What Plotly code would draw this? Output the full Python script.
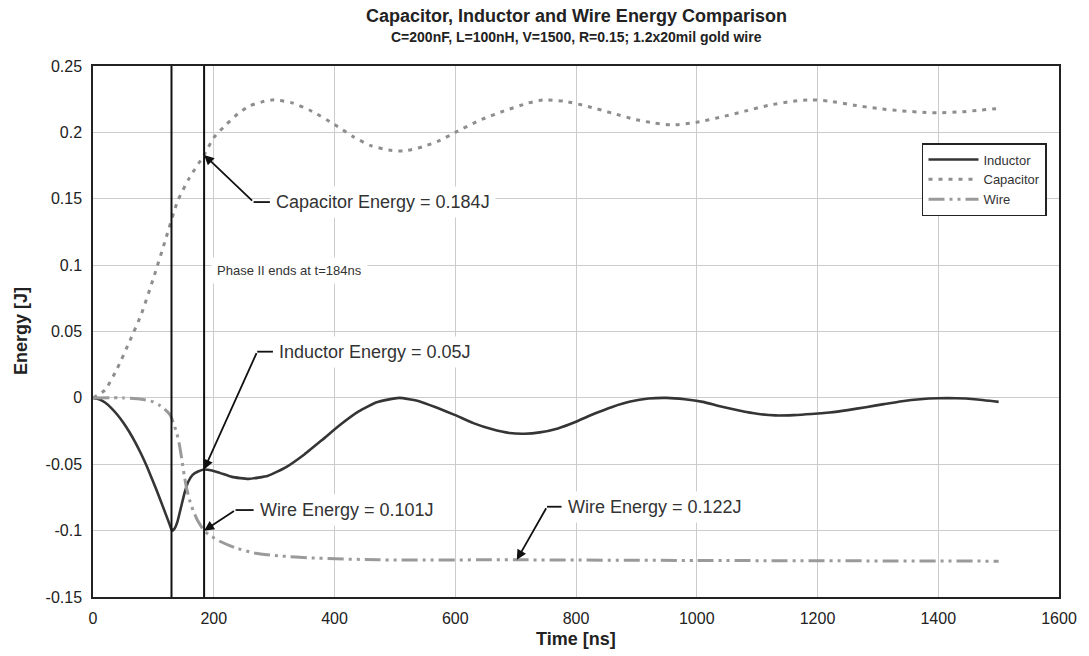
import plotly.graph_objects as go

# ---------------- data ----------------
cap_t = [0, 20, 40, 60, 80, 100, 120, 140, 160, 184, 200, 220, 240, 260, 280, 300, 330, 360,
         400, 430, 460, 490, 515, 545, 575, 600, 640, 680, 720, 745, 780, 820, 860, 900, 930,
         960, 1000, 1040, 1080, 1120, 1160, 1190, 1220, 1260, 1300, 1340, 1380, 1400, 1440,
         1470, 1500]
cap_e = [0.0, 0.006, 0.022, 0.042, 0.063, 0.09, 0.119, 0.148, 0.166, 0.183, 0.196, 0.2056,
         0.214, 0.22, 0.223, 0.2245, 0.2222, 0.2165, 0.206, 0.197, 0.19, 0.1867, 0.186, 0.189,
         0.194, 0.2, 0.209, 0.216, 0.222, 0.2244, 0.2235, 0.2195, 0.2145, 0.2095, 0.207,
         0.2056, 0.2076, 0.2115, 0.216, 0.2205, 0.2235, 0.2245, 0.2235, 0.2205, 0.218, 0.2162,
         0.215, 0.2148, 0.2155, 0.2168, 0.218]

ind_t = [0, 10, 20, 30, 40, 50, 60, 70, 80, 90, 100, 110, 120, 127, 131, 135, 140, 146, 152,
         158, 165, 174, 184, 195, 210, 230, 258, 290, 320, 350, 380, 410, 440, 470, 507, 540,
         570, 600, 630, 660, 690, 715, 740, 770, 800, 830, 860, 890, 920, 950, 980, 1010, 1040,
         1070, 1100, 1130, 1160, 1190, 1220, 1250, 1280, 1310, 1340, 1370, 1400, 1430, 1460,
         1500]
ind_e = [0.0, -0.001, -0.0035, -0.0075, -0.0125, -0.0185, -0.0255, -0.0335, -0.0425, -0.0525,
         -0.0635, -0.075, -0.087, -0.0955, -0.1, -0.0985, -0.093, -0.082, -0.071, -0.063, -0.058,
         -0.0555, -0.054, -0.0545, -0.0565, -0.0595, -0.061, -0.0586, -0.0521, -0.0426, -0.0315,
         -0.0201, -0.0102, -0.0033, 0.0, -0.0025, -0.0075, -0.013, -0.019, -0.0235, -0.0265,
         -0.027, -0.026, -0.023, -0.018, -0.012, -0.0068, -0.0028, -0.0005, 0.0, -0.001, -0.003,
         -0.0065, -0.0095, -0.012, -0.0132, -0.013, -0.0122, -0.011, -0.0092, -0.007, -0.0047,
         -0.0025, -0.001, -0.0003, -0.0003, -0.001, -0.003]

wire_t = [0, 50, 80, 100, 110, 120, 128, 134, 139, 143, 147, 151, 155, 160, 166, 174, 184, 195,
          210, 236, 269, 308, 362, 472, 700, 1000, 1500]
wire_e = [0.0, 0.0, -0.001, -0.003, -0.0055, -0.009, -0.013, -0.02, -0.027, -0.035, -0.046,
          -0.058, -0.068, -0.077, -0.085, -0.093, -0.1, -0.104, -0.108, -0.113, -0.117, -0.119,
          -0.1206, -0.122, -0.122, -0.1225, -0.123]

phase_times = [130, 184]

x_ticks = [0, 200, 400, 600, 800, 1000, 1200, 1400, 1600]
y_ticks = [-0.15, -0.1, -0.05, 0, 0.05, 0.1, 0.15, 0.2, 0.25]
y_tick_text = ["-0.15", "-0.1", "-0.05", "0", "0.05", "0.1", "0.15", "0.2", "0.25"]

# callouts: text, tip (x,y), elbow (x,y), text anchor x
callouts = [
    dict(text="Capacitor Energy = 0.184J", tip=(184, 0.183), elbow=(266, 0.1475), tx=293),
    dict(text="Inductor Energy = 0.05J", tip=(184, -0.054), elbow=(272, 0.0348), tx=298),
    dict(text="Wire Energy = 0.101J", tip=(184, -0.1), elbow=(236, -0.0845), tx=266),
    dict(text="Wire Energy = 0.122J", tip=(702, -0.122), elbow=(752, -0.082), tx=776),
]

FONT = "Arial, 'Liberation Sans', sans-serif"

fig = go.Figure()
fig.add_trace(go.Scatter(x=ind_t, y=ind_e, name="Inductor", mode="lines",
                         line=dict(color="#353535", width=2.6, shape="spline", smoothing=0.5)))
fig.add_trace(go.Scatter(x=cap_t, y=cap_e, name="Capacitor", mode="lines",
                         line=dict(color="#8e8e8e", width=3, dash="4px,6px",
                                   shape="spline", smoothing=0.6)))
fig.add_trace(go.Scatter(x=wire_t, y=wire_e, name="Wire", mode="lines",
                         line=dict(color="#9a9a9a", width=3, dash="16px,5px,3px,5px,3px,5px",
                                   shape="spline", smoothing=0.5)))

shapes = []
for pt in phase_times:
    shapes.append(dict(type="line", xref="x", yref="paper", x0=pt, x1=pt, y0=0, y1=1,
                       line=dict(color="#111111", width=2), layer="above"))

annotations = []
for c in callouts:
    shapes.append(dict(type="line", xref="x", yref="y", x0=c["elbow"][0], x1=c["tx"],
                       y0=c["elbow"][1], y1=c["elbow"][1],
                       line=dict(color="#111111", width=1.8), layer="above"))
    annotations.append(dict(x=c["tip"][0], y=c["tip"][1], ax=c["elbow"][0], ay=c["elbow"][1],
                            axref="x", ayref="y", xref="x", yref="y", text="",
                            showarrow=True, arrowhead=2, arrowsize=1.1, arrowwidth=1.8,
                            arrowcolor="#111111", standoff=0))
    annotations.append(dict(x=c["tx"], y=c["elbow"][1], xref="x", yref="y", text=c["text"],
                            showarrow=False, xanchor="left", yanchor="middle",
                            bgcolor="white", borderpad=5,
                            font=dict(family=FONT, size=18, color="#333333")))

annotations.append(dict(x=195, y=0.0963, xref="x", yref="y", text="Phase II ends at t=184ns",
                        showarrow=False, xanchor="left", yanchor="middle", bgcolor="white",
                        borderpad=5, font=dict(family=FONT, size=13, color="#333333")))

# titles (paper coords relative to plot area 66..597 px)
annotations.append(dict(x=0.5, y=(597 - 16) / 531, xref="paper", yref="paper",
                        text="<b>Capacitor, Inductor and Wire Energy Comparison</b>",
                        showarrow=False, xanchor="center", yanchor="middle", borderpad=0,
                        font=dict(family=FONT, size=18, color="#222222")))
annotations.append(dict(x=0.5, y=(597 - 37) / 531, xref="paper", yref="paper",
                        text="<b>C=200nF, L=100nH, V=1500, R=0.15; 1.2x20mil gold wire</b>",
                        showarrow=False, xanchor="center", yanchor="middle", borderpad=0,
                        font=dict(family=FONT, size=14, color="#222222")))
annotations.append(dict(x=(20 - 93) / 973, y=0.5, xref="paper", yref="paper",
                        text="<b>Energy [J]</b>", textangle=-90, showarrow=False,
                        xanchor="center", yanchor="middle",
                        font=dict(family=FONT, size=18, color="#222222")))
annotations.append(dict(x=0.5, y=(597 - 639) / 531, xref="paper", yref="paper",
                        text="<b>Time [ns]</b>", showarrow=False, borderpad=0,
                        xanchor="center", yanchor="middle",
                        font=dict(family=FONT, size=18, color="#222222")))

fig.update_layout(
    width=1089, height=656,
    margin=dict(l=93, r=23, t=66, b=59),
    paper_bgcolor="white", plot_bgcolor="white",
    font=dict(family=FONT, size=16, color="#222222"),
    shapes=shapes, annotations=annotations,
    legend=dict(x=(928 - 93) / 973, y=(597 - 143) / 531, xanchor="left", yanchor="top",
                bgcolor="white", bordercolor="#222222", borderwidth=1.5,
                font=dict(family=FONT, size=13, color="#333333"),
                tracegroupgap=0, itemwidth=50, entrywidth=80, entrywidthmode="pixels"),
    showlegend=True,
)
fig.update_xaxes(range=[0, 1600], tickvals=x_ticks, ticktext=[str(v) for v in x_ticks],
                 showgrid=True, gridcolor="#cccccc", gridwidth=1, zeroline=False,
                 showline=True, linecolor="#222222", linewidth=1.5, mirror=True,
                 ticks="", ticklabelstandoff=6)
fig.update_yaxes(range=[-0.15, 0.25], tickvals=y_ticks, ticktext=y_tick_text,
                 showgrid=True, gridcolor="#cccccc", gridwidth=1, zeroline=False,
                 showline=True, linecolor="#222222", linewidth=1.5, mirror=True,
                 ticks="", ticklabelstandoff=6)

fig.write_html("out.html", config={"displayModeBar": False},
               post_script="document.body.style.margin='0px';")
